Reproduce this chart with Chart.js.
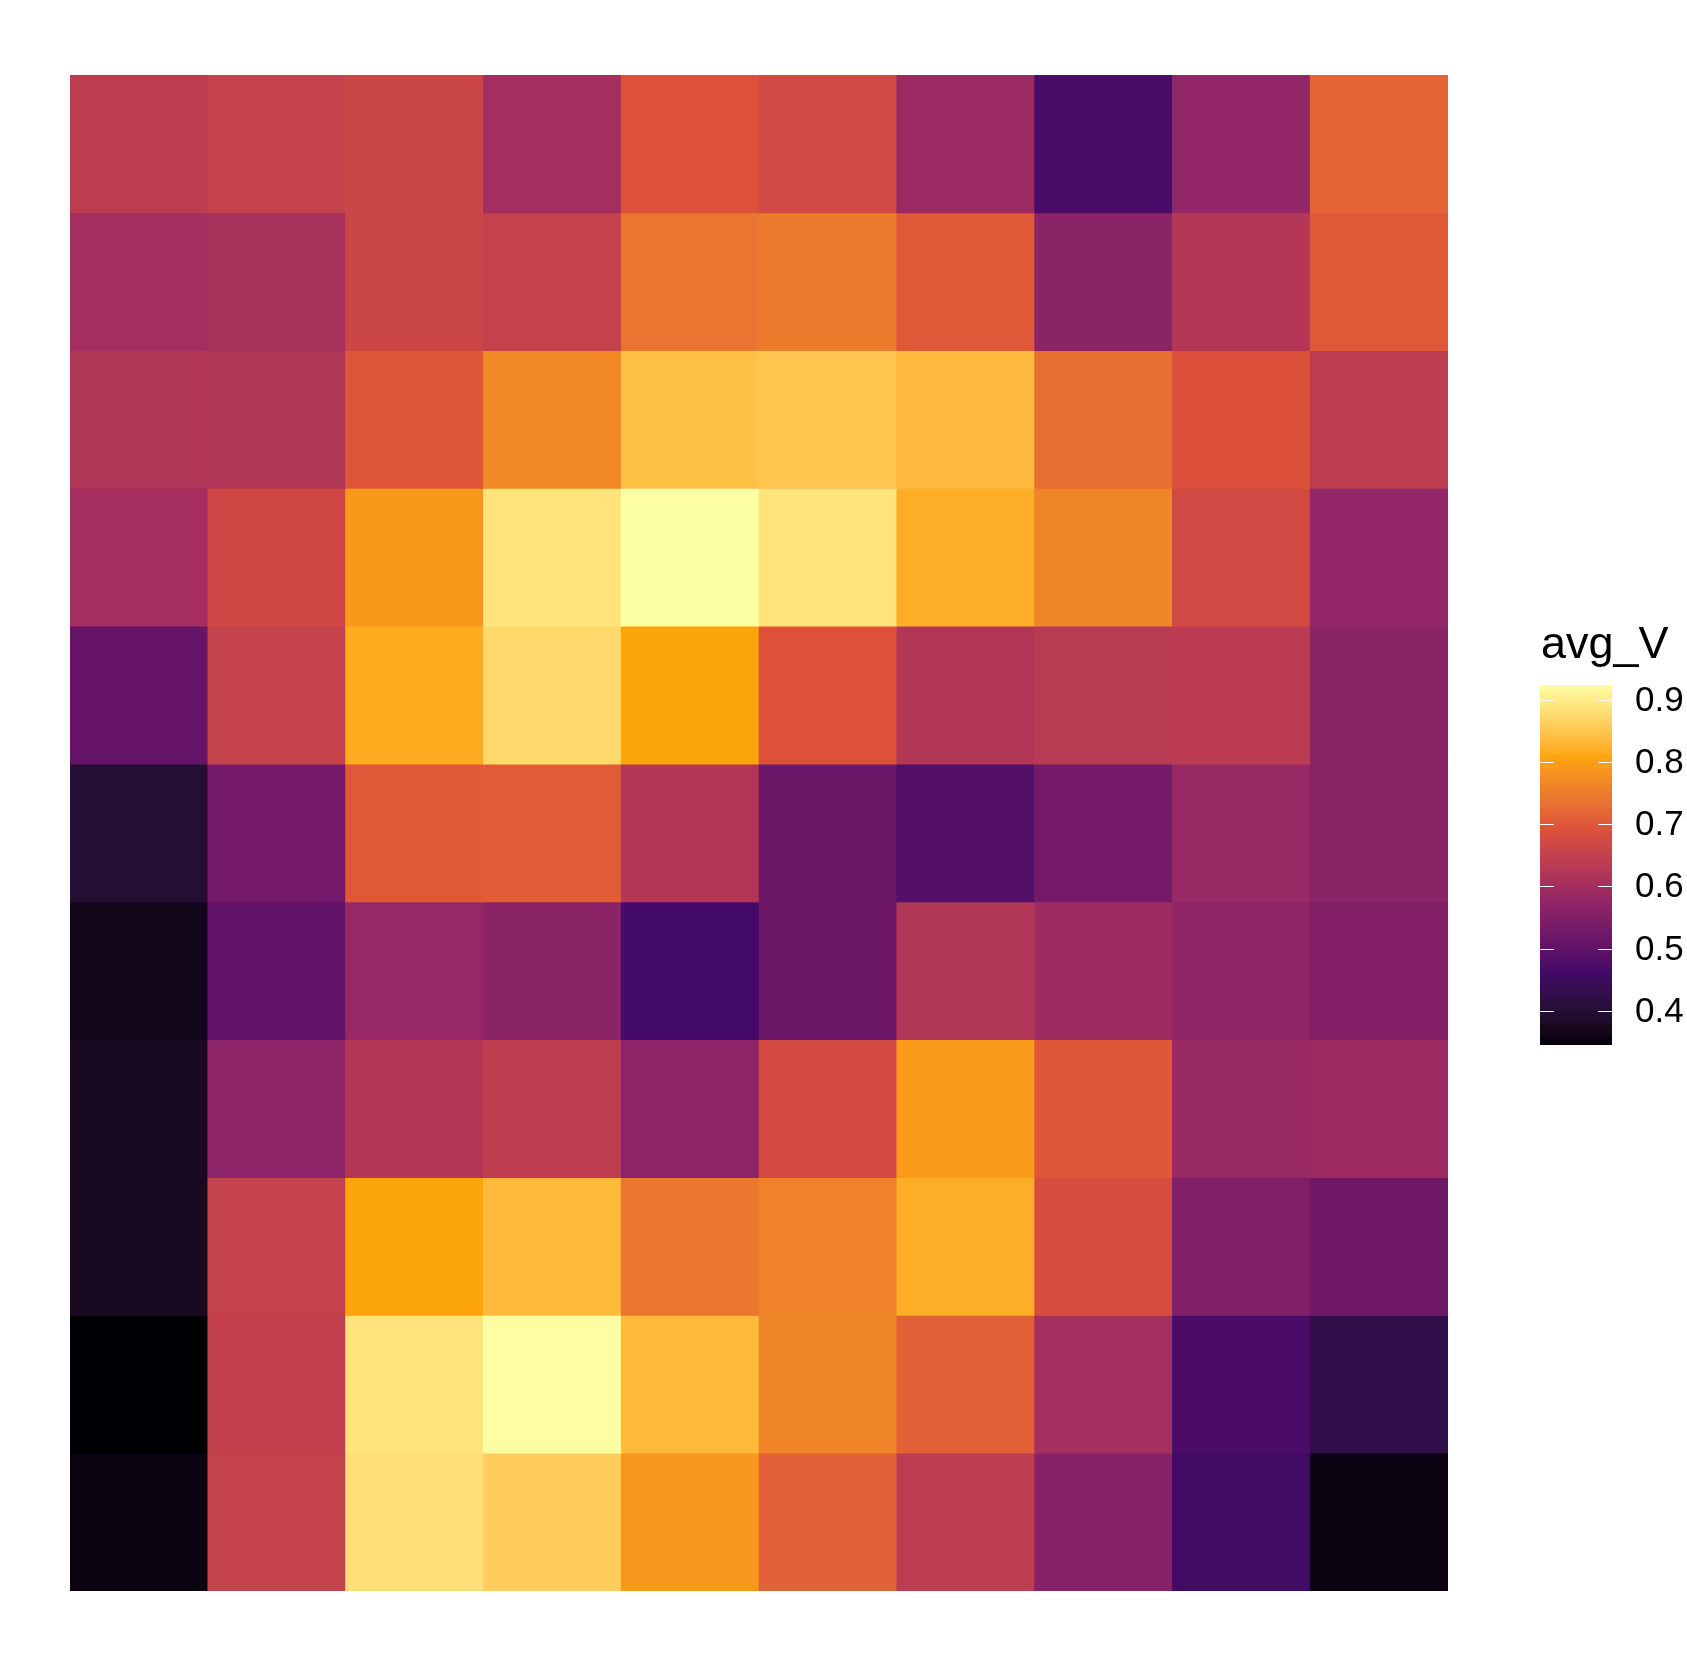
<!DOCTYPE html>
<html><head><meta charset="utf-8">
<script src="https://cdn.jsdelivr.net/npm/chart.js@4/dist/chart.umd.min.js"></script>
<style>html,body{margin:0;padding:0;background:#fff}#wrap{width:1687px;height:1666px}</style>
</head><body><div id="wrap"><canvas id="c" width="1687" height="1666"></canvas></div>
<script>
const columns = ['1','2','3','4','5','6','7','8','9','10'];
const row01 = [0.640, 0.652, 0.663, 0.600, 0.692, 0.672, 0.588, 0.470, 0.577, 0.716];
const row02 = [0.600, 0.608, 0.663, 0.652, 0.739, 0.747, 0.701, 0.565, 0.626, 0.701];
const row03 = [0.620, 0.620, 0.698, 0.768, 0.843, 0.849, 0.837, 0.730, 0.690, 0.640];
const row04 = [0.600, 0.669, 0.790, 0.889, 0.924, 0.889, 0.820, 0.762, 0.672, 0.577];
const row05 = [0.507, 0.652, 0.817, 0.875, 0.808, 0.692, 0.623, 0.634, 0.637, 0.565];
const row06 = [0.400, 0.530, 0.701, 0.707, 0.623, 0.519, 0.484, 0.530, 0.585, 0.565];
const row07 = [0.366, 0.501, 0.582, 0.565, 0.465, 0.519, 0.620, 0.594, 0.571, 0.551];
const row08 = [0.376, 0.568, 0.626, 0.643, 0.568, 0.675, 0.794, 0.698, 0.585, 0.591];
const row09 = [0.376, 0.652, 0.808, 0.834, 0.742, 0.759, 0.820, 0.681, 0.548, 0.522];
const row10 = [0.345, 0.649, 0.889, 0.921, 0.834, 0.762, 0.713, 0.603, 0.472, 0.426];
const row11 = [0.355, 0.652, 0.883, 0.860, 0.788, 0.713, 0.640, 0.559, 0.458, 0.355];
const rows = [row01,row02,row03,row04,row05,row06,row07,row08,row09,row10,row11];
const legendTitle = 'avg_V';
const legendTicks = [0.4, 0.5, 0.6, 0.7, 0.8, 0.9];
const palette = ['#000004','#420A68','#932667','#DD513A','#FCA50A','#FCFFA4'];

// Lab interpolation (like ggplot gradient_n_pal)
function hex2rgb(h){return [1,3,5].map(i=>parseInt(h.substr(i,2),16)/255);}
function lin(c){return c<=0.04045?c/12.92:Math.pow((c+0.055)/1.055,2.4);}
function gam(c){return c<=0.0031308?12.92*c:1.055*Math.pow(c,1/2.4)-0.055;}
const Xn=0.95047,Yn=1.0,Zn=1.08883;
function f(t){return t>Math.pow(6/29,3)?Math.cbrt(t):t/(3*Math.pow(6/29,2))+4/29;}
function fi(t){return t>6/29?t*t*t:3*Math.pow(6/29,2)*(t-4/29);}
function rgb2lab(rgb){const [r,g,b]=rgb.map(lin);
  const X=0.4124564*r+0.3575761*g+0.1804375*b, Y=0.2126729*r+0.7151522*g+0.0721750*b, Z=0.0193339*r+0.1191920*g+0.9503041*b;
  const fx=f(X/Xn),fy=f(Y/Yn),fz=f(Z/Zn);return [116*fy-16,500*(fx-fy),200*(fy-fz)];}
function lab2rgb(l){const fy=(l[0]+16)/116,fx=fy+l[1]/500,fz=fy-l[2]/200;
  const X=Xn*fi(fx),Y=Yn*fi(fy),Z=Zn*fi(fz);
  const r=3.2404542*X-1.5371385*Y-0.4985314*Z, g=-0.9692660*X+1.8760108*Y+0.0415560*Z, b=0.0556434*X-0.2040259*Y+1.0572252*Z;
  return [r,g,b].map(c=>Math.round(255*Math.min(1,Math.max(0,gam(c)))));}
const labs = palette.map(h=>rgb2lab(hex2rgb(h)));
const allVals = rows.flat();
const vmin = Math.min(...allVals), vmax = Math.max(...allVals);
function colorFor(v){
  let t=(v-vmin)/(vmax-vmin); t=Math.min(1,Math.max(0,t));
  const s=t*(labs.length-1); const i=Math.min(labs.length-2,Math.floor(s)); const u=s-i;
  const l=[0,1,2].map(k=>labs[i][k]+(labs[i+1][k]-labs[i][k])*u);
  const c=lab2rgb(l); return `rgb(${c[0]},${c[1]},${c[2]})`;
}

const nRows = rows.length;
const datasets = rows.map((vals, r) => ({
  label: 'row ' + (r+1),
  data: vals.map(() => [nRows-1-r, nRows-r]),
  backgroundColor: vals.map(colorFor),
  borderWidth: 0,
  barPercentage: 1,
  categoryPercentage: 1,
  grouped: false
}));

const colorbar = {
  id: 'colorbar',
  afterDraw(chart){
    const ctx = chart.ctx;
    const x0=1540, w=72, y0=685, h=360, y1=y0+h;
    const lo = vmin, hi = vmax;
    const yOf = v => y1 - (v-lo)/(hi-lo)*h;
    for(let y=y0;y<y1;y++){
      const v = hi - ((y+0.5-y0)/h)*(hi-lo);
      ctx.fillStyle = colorFor(v);
      ctx.fillRect(x0, y, w, 1);
    }
    ctx.strokeStyle='#ffffff'; ctx.lineWidth=1.2;
    ctx.font='35px "Liberation Sans", Arial, sans-serif';
    ctx.textBaseline='middle'; ctx.textAlign='left';
    legendTicks.forEach(v=>{
      const y=Math.round(yOf(v))+0.5;
      ctx.beginPath(); ctx.moveTo(x0,y); ctx.lineTo(x0+14,y); ctx.moveTo(x0+w-14,y); ctx.lineTo(x0+w,y); ctx.stroke();
      ctx.fillStyle='#000000'; ctx.fillText(v.toFixed(1), 1635, y+1);
    });
    ctx.font='45px "Liberation Sans", Arial, sans-serif';
    ctx.textBaseline='alphabetic'; ctx.fillStyle='#000000';
    ctx.fillText(legendTitle, 1541, 658);
  }
};

new Chart(document.getElementById('c'), {
  type: 'bar',
  data: { labels: columns, datasets },
  options: {
    responsive: false, animation: false, devicePixelRatio: 1,
    layout: { padding: { left: 70, top: 75, right: 239, bottom: 75 } },
    scales: {
      x: { type: 'category', display: false, offset: true, grid: {display:false} },
      y: { type: 'linear', min: 0, max: 11, display: false, grid: {display:false} }
    },
    plugins: { legend: { display: false }, tooltip: { enabled: false } }
  },
  plugins: [colorbar]
});
</script></body></html>
